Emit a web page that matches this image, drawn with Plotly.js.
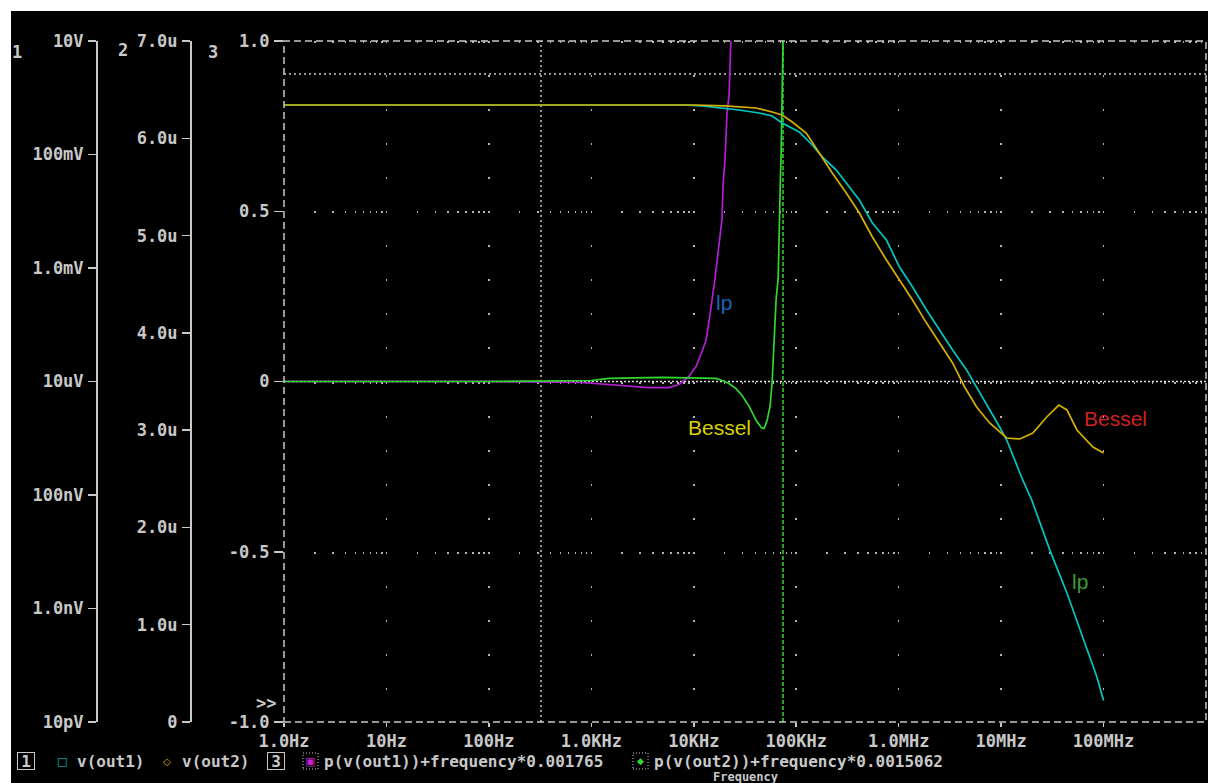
<!DOCTYPE html>
<html><head><meta charset="utf-8">
<script src="https://cdn.plot.ly/plotly-3.0.1.min.js"></script>
<style>
html,body{margin:0;padding:0;background:#fff;width:1208px;height:783px;overflow:hidden}
#chart{position:absolute;left:11px;top:11px;width:1197px;height:772px;background:#000;overflow:hidden}
</style></head><body><div id="chart"></div>
<script>
// ---- data ----
// v(out1) on axis 1 (log volts)
const out1Freq = [1, 10, 100, 1000, 8000, 12000, 18880, 27690, 43450, 58240, 72920, 106900, 143400, 179600, 246100, 308300, 413200, 554300, 760100, 1.019e6, 1.366e6, 1.871e6, 2.507e6, 3.36e6, 4.6e6, 5.77e6, 9.68e6, 1.134e7, 1.626e7, 1.99e7, 2.99e7, 4.39e7, 5.88e7, 8.61e7, 1e8];
const out1Volt = [0.745, 0.745, 0.745, 0.745, 0.745, 0.72, 0.66, 0.608, 0.539, 0.477, 0.359, 0.249, 0.147, 0.0904, 0.0533, 0.0315, 0.0158, 0.00621, 0.00311, 0.00104, 4.62e-4, 1.82e-4, 8.08e-5, 3.59e-5, 1.6e-5, 8.0e-6, 1.58e-6, 9.31e-7, 1.84e-7, 8.16e-8, 1.07e-8, 1.88e-9, 4.18e-10, 6.21e-11, 2.4e-11];
// v(out2) on axis 1 (log volts)
const out2Freq = [1, 10, 100, 1000, 10000, 20000, 29630, 40610, 58240, 72920, 91400, 125300, 167900, 224900, 308300, 413200, 554300, 760100, 1.019e6, 1.366e6, 1.871e6, 2.507e6, 3.36e6, 4.40e6, 5.77e6, 7.73e6, 1.134e7, 1.52e7, 2.04e7, 2.79e7, 3.66e7, 4.39e7, 5.50e7, 7.87e7, 1e8];
const out2Volt = [0.745, 0.745, 0.745, 0.745, 0.745, 0.72, 0.687, 0.66, 0.561, 0.497, 0.374, 0.239, 0.106, 0.0472, 0.021, 9.31e-3, 3.52e-3, 1.38e-3, 6.15e-4, 2.73e-4, 1.07e-4, 4.77e-5, 2.12e-5, 8.0e-6, 3.56e-6, 1.86e-6, 1.01e-6, 9.7e-7, 1.24e-6, 2.37e-6, 3.85e-6, 3.15e-6, 1.40e-6, 7.0e-7, 5.5e-7];
// p(v(out1))+frequency*0.001765 on axis 3
const ph1Freq = [1, 10, 100, 805, 1384, 2173, 3646, 5720, 7165, 8977, 10510, 12030, 13160, 14080, 15070, 16110, 18880, 19310, 20190, 20650, 21130, 22090, 22600, 23120, 24200];
const ph1Val  = [0, 0, 0, -0.003, -0.009, -0.012, -0.018, -0.018, -0.009, 0.015, 0.044, 0.088, 0.12, 0.176, 0.243, 0.302, 0.478, 0.575, 0.654, 0.733, 0.792, 0.839, 0.909, 1.006, 1.2];
// p(v(out2))+frequency*0.0015062 on axis 3
const ph2Freq = [1, 10, 100, 1000, 1479, 4887, 16490, 18880, 22090, 25860, 29630, 34690, 40610, 45490, 48660, 52040, 55700, 58240, 59590, 62310, 63690, 66640, 68170, 69700, 71290, 72110, 72920, 76370];
const ph2Val  = [0, 0, 0, 0.003, 0.009, 0.012, 0.009, 0.003, -0.006, -0.021, -0.041, -0.073, -0.114, -0.135, -0.138, -0.114, -0.070, 0, 0.076, 0.176, 0.243, 0.302, 0.478, 0.566, 0.674, 0.780, 1.006, 1.2];

// ticks
const xTickVals = [1, 10, 100, 1e3, 1e4, 1e5, 1e6, 1e7, 1e8];
const xTickText = ['1.0Hz', '10Hz', '100Hz', '1.0KHz', '10KHz', '100KHz', '1.0MHz', '10MHz', '100MHz'];
const ax1Vals = [10, 0.1, 1e-3, 1e-5, 1e-7, 1e-9, 1e-11];
const ax1Text = ['10V', '100mV', '1.0mV', '10uV', '100nV', '1.0nV', '10pV'];
const ax2Vals = [0, 1e-6, 2e-6, 3e-6, 4e-6, 5e-6, 6e-6, 7e-6];
const ax2Text = ['0', '1.0u', '2.0u', '3.0u', '4.0u', '5.0u', '6.0u', '7.0u'];
const ax3Vals = [-1, -0.5, 0, 0.5, 1];
const ax3Text = ['-1.0', '-0.5', '0', '0.5', '1.0'];

// ---- layout helpers ----
const W = 1197, H = 772, ML = 0, MR = 2, MT = 30, MB = 61;
const PW = W - ML - MR, PH = H - MT - MB;
const X0 = 11, Y0 = 11;                       // div offset on the page
const px = X => (X - X0 - ML) / PW;           // page x -> paper
const py = Y => (MT + PH - (Y - Y0)) / PH;    // page y -> paper
const xDom0 = px(284);

const minorVals = [];
for (let k = 0; k < 9; k++) for (let d = 2; d <= 9; d++) minorVals.push(d * Math.pow(10, k));

const GRAY = '#c8c8c8';
const MONO = 'DejaVu Sans Mono';
const tickFont = {family: MONO, size: 17, color: GRAY, weight: 'bold'};
const legFont = {family: MONO, size: 16, color: GRAY, weight: 'bold'};
const gridC = '#b4b4b4';
const sans = c => ({family: 'Liberation Sans', size: 21, color: c, weight: 'normal'});

const traces = [
  {x: out1Freq, y: out1Volt, xaxis: 'x', yaxis: 'y2', type: 'scatter', mode: 'lines', name: 'v(out1)', line: {color: '#00c8c0', width: 1.7}},
  {x: out2Freq, y: out2Volt, xaxis: 'x', yaxis: 'y2', type: 'scatter', mode: 'lines', name: 'v(out2)', line: {color: '#d4b000', width: 1.7}},
  {x: ph1Freq, y: ph1Val, xaxis: 'x', yaxis: 'y', type: 'scatter', mode: 'lines', name: 'p(v(out1))+frequency*0.001765', line: {color: '#b020d0', width: 1.7}},
  {x: ph2Freq, y: ph2Val, xaxis: 'x', yaxis: 'y', type: 'scatter', mode: 'lines', name: 'p(v(out2))+frequency*0.0015062', line: {color: '#30d830', width: 1.7}},
  {x: [], y: [], xaxis: 'x', yaxis: 'y3', type: 'scatter', mode: 'lines', name: 'axis2', hoverinfo: 'skip'}
];

const sideAxis = (pos) => ({
  overlaying: 'y', anchor: 'free', position: pos, side: 'left',
  tickmode: 'array', ticks: 'outside', ticklen: 8, tickwidth: 1.5, tickcolor: GRAY,
  showline: true, linecolor: GRAY, linewidth: 1.5, showgrid: false, zeroline: false,
  tickfont: tickFont, ticklabelstandoff: 1, fixedrange: true
});

const ann = (text, X, Y, o) => Object.assign({text: text, xref: 'paper', yref: 'paper', x: px(X), y: py(Y), showarrow: false, font: {family: MONO, size: 17, color: GRAY, weight: 'bold'}, xanchor: 'center', yanchor: 'middle'}, o || {});

const LY = 761;
const annotations = [
  ann('1', 17, 52), ann('2', 123, 50), ann('3', 213, 52),
  ann('>>', 266, 703),
  ann('lp', 724, 302, {font: sans('#1a64b4')}),
  ann('Bessel', 719, 427, {font: sans('#d8d000')}),
  ann('Bessel', 1115, 418, {font: sans('#d02020')}),
  ann('lp', 1080, 581, {font: sans('#3a9a3a')}),
  // bottom legend
  ann('1', 26, LY, {font: legFont, bordercolor: GRAY, borderwidth: 1, width: 16, height: 16, borderpad: 0}),
  ann('□', 62, LY, {font: {family: 'DejaVu Sans', size: 11, color: '#00d8d0'}}),
  ann('v(out1)', 75, LY, {xanchor: 'left', font: legFont}),
  ann('◇', 167, LY, {font: {family: 'DejaVu Sans', size: 10, color: '#d4b000', weight: 'bold'}}),
  ann('v(out2)', 180, LY, {xanchor: 'left', font: legFont}),
  ann('3', 276, LY, {font: legFont, bordercolor: GRAY, borderwidth: 1, width: 16, height: 16, borderpad: 0}),
  ann('▣', 310, LY, {font: {family: 'DejaVu Sans', size: 11, color: '#c020d0'}}),
  ann('p(v(out1))+frequency*0.001765', 322, LY, {xanchor: 'left', font: legFont}),
  ann('◆', 640, LY, {font: {family: 'DejaVu Sans', size: 9, color: '#30d830'}}),
  ann('p(v(out2))+frequency*0.0015062', 652, LY, {xanchor: 'left', font: legFont}),
  ann('Frequency', 745, 777, {font: {family: MONO, size: 12, color: GRAY, weight: 'bold'}})
];

const shapes = [
  // cursors
  {type: 'line', xref: 'paper', yref: 'y', x0: xDom0, x1: 1, y0: 0.903, y1: 0.903, line: {color: GRAY, width: 1.5, dash: '2px,3px'}, layer: 'below'},
  {type: 'line', xref: 'paper', yref: 'y', x0: xDom0, x1: 1, y0: 0, y1: 0, line: {color: '#e0e0e0', width: 1.5, dash: '2px,2px'}, layer: 'below'},
  {type: 'line', xref: 'paper', yref: 'paper', x0: px(541), x1: px(541), y0: 0, y1: 1, line: {color: GRAY, width: 1.5, dash: '2px,3px'}, layer: 'below'},
  {type: 'line', xref: 'paper', yref: 'paper', x0: px(783), x1: px(783), y0: 0, y1: 1, line: {color: '#30d830', width: 1.5, dash: '4px,2px'}, layer: 'above'},
  // dashed frame of the plot
  {type: 'rect', xref: 'paper', yref: 'paper', x0: xDom0, x1: 1, y0: 0, y1: 1, line: {color: GRAY, width: 1.5, dash: '7px,4px'}, layer: 'above'},
  // dotted boxes of the legend symbols
  {type: 'rect', xref: 'paper', yref: 'paper', x0: px(303), x1: px(318), y0: py(769), y1: py(753), line: {color: GRAY, width: 1, dash: '1px,2px'}},
  {type: 'rect', xref: 'paper', yref: 'paper', x0: px(633), x1: px(648), y0: py(769), y1: py(753), line: {color: GRAY, width: 1, dash: '1px,2px'}}
];

const layout = {
  width: W, height: H, margin: {l: ML, r: MR, t: MT, b: MB, pad: 0},
  paper_bgcolor: '#000', plot_bgcolor: '#000', showlegend: false,
  font: {family: MONO, size: 17, color: GRAY, weight: 'bold'},
  xaxis: {
    type: 'log', domain: [xDom0, 1], range: [0, 9], fixedrange: true,
    tickmode: 'array', tickvals: xTickVals, ticktext: xTickText,
    ticks: 'outside', ticklen: 4, tickwidth: 1.5, tickcolor: GRAY, tickfont: tickFont, ticklabelstandoff: 0,
    showline: false, zeroline: false,
    showgrid: true, gridcolor: gridC, gridwidth: 1.5, griddash: '2px,32.05px',
    minor: {tickmode: 'array', tickvals: minorVals, ticks: '', showgrid: true, gridcolor: gridC, gridwidth: 1.5, griddash: '2px,168.25px'}
  },
  yaxis: {
    range: [-1, 1], anchor: 'x', side: 'left', fixedrange: true,
    tickmode: 'array', tickvals: ax3Vals, ticktext: ax3Text,
    ticks: 'outside', ticklen: 9, tickwidth: 1.5, tickcolor: GRAY, tickfont: tickFont, ticklabelstandoff: 1,
    showgrid: false, zeroline: false, showline: false
  },
  yaxis2: Object.assign(sideAxis(px(96)), {type: 'log', range: [-11, 1], tickvals: ax1Vals, ticktext: ax1Text}),
  yaxis3: Object.assign(sideAxis(px(190)), {range: [0, 7e-6], tickvals: ax2Vals, ticktext: ax2Text}),
  annotations: annotations,
  shapes: shapes
};

Plotly.newPlot('chart', traces, layout, {staticPlot: true, displayModeBar: false});
</script>
</body></html>
